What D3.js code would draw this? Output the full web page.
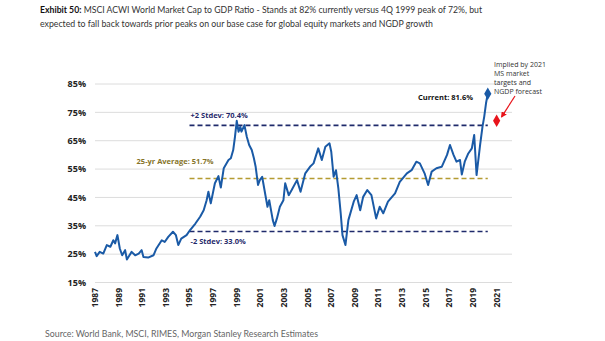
<!DOCTYPE html>
<html>
<head>
<meta charset="utf-8">
<script src="https://cdn.jsdelivr.net/npm/d3@7"></script>
<style>
  body { margin: 0; background: #fff; }
  svg { font-family: "Open Sans", "Noto Sans", sans-serif; }
  .lato { font-family: Lato, "Open Sans", sans-serif; }
</style>
</head>
<body>
<svg id="chart"></svg>
<script>
// decimal year / ratio (%)
const years = [
  1987.0, 1987.14, 1987.4, 1987.7, 1988.0, 1988.3, 1988.55, 1988.7, 1988.9, 1989.1,
  1989.3, 1989.55, 1989.7, 1990.1, 1990.4, 1990.7, 1990.95, 1991.1, 1991.5, 1991.95,
  1992.2, 1992.65, 1992.9, 1993.2, 1993.6, 1993.85, 1994.05, 1994.3, 1994.75, 1995.05,
  1995.5, 1995.9, 1996.2, 1996.45, 1996.6, 1996.8, 1997.15, 1997.45, 1997.65, 1997.9,
  1998.3, 1998.5, 1998.7, 1998.85, 1999.0, 1999.15, 1999.3, 1999.4, 1999.65, 1999.85,
  2000.05, 2000.27, 2000.45, 2000.6, 2000.8, 2000.95, 2001.15, 2001.4, 2001.6, 2001.75,
  2001.9, 2002.05, 2002.2, 2002.4, 2002.65, 2002.95, 2003.1, 2003.4, 2003.65, 2004.1,
  2004.4, 2004.8, 2005.2, 2005.5, 2005.9, 2006.2, 2006.5, 2006.85, 2007.0, 2007.2,
  2007.4, 2007.6, 2007.8, 2007.95, 2008.2, 2008.45, 2008.9, 2009.15, 2009.45, 2009.7,
  2010.05, 2010.4, 2010.8, 2011.1, 2011.4, 2011.8, 2012.4, 2012.8, 2013.4, 2013.8,
  2014.2, 2014.5, 2014.9, 2015.2, 2015.5, 2015.9, 2016.35, 2016.8, 2017.05, 2017.35,
  2017.6, 2017.9, 2018.05, 2018.3, 2018.6, 2018.9, 2019.1, 2019.3, 2019.6, 2019.8,
  2019.95, 2020.1, 2020.25
];
const ratio = [
  25.8, 24.3, 25.8, 25.2, 28.2, 27.6, 29.9, 28.8, 31.7, 27.0,
  24.6, 26.4, 23.1, 25.8, 24.6, 25.2, 26.4, 24.0, 23.8, 24.6,
  27.0, 29.9, 29.3, 31.1, 32.9, 31.7, 28.2, 30.5, 31.7, 33.5,
  35.8, 38.2, 40.5, 44.0, 47.0, 42.9, 50.0, 52.5, 48.5, 55.3,
  58.2, 58.8, 61.7, 66.4, 72.0, 68.2, 69.9, 68.2, 70.5, 66.4,
  63.5, 61.7, 58.8, 55.8, 49.4, 51.1, 52.3, 46.4, 41.7, 44.0,
  40.5, 37.0, 34.9, 37.6, 41.7, 44.0, 50.0, 45.8, 47.6, 51.1,
  47.0, 53.5, 55.8, 57.0, 62.3, 58.2, 62.9, 64.1, 61.1, 52.3,
  54.6, 48.2, 39.4, 31.7, 28.2, 37.0, 43.5, 45.8, 40.5, 45.2,
  47.6, 45.8, 37.6, 41.7, 39.4, 43.5, 46.4, 50.5, 53.5, 54.6,
  57.6, 57.0, 53.5, 49.4, 54.1, 55.3, 55.8, 60.0, 63.5, 60.0,
  57.6, 58.2, 53.1, 57.6, 60.5, 62.3, 67.0, 52.9, 63.5, 69.9,
  73.5, 78.2, 81.6
];

const yTicks = [15, 25, 35, 45, 55, 65, 75, 85];
const xTicks = [1987, 1989, 1991, 1993, 1995, 1997, 1999, 2001, 2003, 2005, 2007, 2009, 2011, 2013, 2015, 2017, 2019, 2021];

const refLines = [
  { label: "+2 Stdev: 70.4%", value: 70.4, color: "#1f2a6b", text: "#1f2a6b" },
  { label: "25-yr Average: 51.7%", value: 51.7, color: "#b49b32", text: "#86742a" },
  { label: "-2 Stdev: 33.0%", value: 33.0, color: "#1f2a6b", text: "#1f2a6b" }
];
const refStart = 1995, refEnd = 2020.25;

const forecastYear = 2021, forecastValue = 72;
const noteLines = ["Implied by 2021", "MS market", "targets and", "NGDP forecast"];

const width = 605, height = 341;
const svg = d3.select("#chart").attr("width", width).attr("height", height);

const x = d3.scaleLinear().domain([1987, 2022.3]).range([95, 512]);
const y = d3.scaleLinear().domain([15, 85]).range([282.5, 84]);

// title (squeezed to the reference's line widths)
const title = svg.append("text").attr("class", "lato").attr("x", 40).attr("y", 13)
  .attr("font-size", 9.5).attr("fill", "#333")
  .attr("textLength", 442).attr("lengthAdjust", "spacingAndGlyphs");
title.append("tspan").attr("font-weight", "bold").attr("fill", "#111").text("Exhibit 50:");
title.append("tspan").text(" MSCI ACWI World Market Cap to GDP Ratio - Stands at 82% currently versus 4Q 1999 peak of 72%, but");
svg.append("text").attr("class", "lato").attr("x", 40).attr("y", 27).attr("font-size", 9.5).attr("fill", "#333")
  .attr("textLength", 393).attr("lengthAdjust", "spacingAndGlyphs")
  .text("expected to fall back towards prior peaks on our base case for global equity markets and NGDP growth");

// gridlines + y labels
svg.append("g").selectAll("line").data(yTicks).join("line")
  .attr("x1", x.range()[0]).attr("x2", x.range()[1])
  .attr("y1", d => y(d)).attr("y2", d => y(d))
  .attr("stroke", "#dcdcdc").attr("stroke-width", 1);

svg.append("g").selectAll("text").data(yTicks).join("text")
  .attr("x", 86).attr("y", d => y(d)).attr("dy", "0.35em")
  .attr("text-anchor", "end").attr("font-size", 9).attr("font-weight", "bold").attr("fill", "#222")
  .text(d => d + "%");

// x labels, rotated
svg.append("g").selectAll("text").data(xTicks).join("text")
  .attr("transform", d => `translate(${x(d)}, 288) rotate(-90)`)
  .attr("dy", "0.35em").attr("text-anchor", "end")
  .attr("font-size", 8.5).attr("font-weight", "bold").attr("fill", "#222")
  .text(d => d);

// reference lines
const refs = svg.append("g");
refs.selectAll("line").data(refLines).join("line")
  .attr("x1", x(refStart)).attr("x2", x(refEnd))
  .attr("y1", d => y(d.value)).attr("y2", d => y(d.value))
  .attr("stroke", d => d.color).attr("stroke-width", 1.6).attr("stroke-dasharray", "5,3");

refs.selectAll("text").data(refLines).join("text")
  .attr("x", (d, i) => i === 1 ? x(refStart) + 24 : x(refStart) + 1)
  .attr("y", (d, i) => i === 0 ? y(d.value) - 7 : i === 1 ? y(d.value) - 14 : y(d.value) + 13)
  .attr("text-anchor", (d, i) => i === 1 ? "end" : "start")
  .attr("font-size", 7.5).attr("font-weight", "bold").attr("fill", d => d.text)
  .text(d => d.label);

// main series
const series = years.map((yr, i) => ({ year: yr, value: ratio[i] }));
svg.append("path").datum(series)
  .attr("fill", "none").attr("stroke", "#1a5aa6").attr("stroke-width", 2)
  .attr("stroke-linejoin", "round")
  .attr("d", d3.line().x(d => x(d.year)).y(d => y(d.value)));

// current marker
const last = series[series.length - 1];
svg.append("path")
  .attr("d", d3.symbol().type(d3.symbolDiamond).size(45))
  .attr("transform", `translate(${x(last.year)}, ${y(last.value)})`)
  .attr("fill", "#1a5aa6");
svg.append("text").attr("x", 418).attr("y", 100)
  .attr("font-size", 7.5).attr("font-weight", "bold").attr("fill", "#111")
  .text("Current: " + last.value.toFixed(1) + "%");

// forecast marker
svg.append("path")
  .attr("d", d3.symbol().type(d3.symbolDiamond).size(45))
  .attr("transform", `translate(${x(forecastYear)}, ${y(forecastValue)})`)
  .attr("fill", "#e8141b");

// arrow
svg.append("defs").append("marker")
  .attr("id", "arrow").attr("viewBox", "0 0 10 10").attr("refX", 8).attr("refY", 5)
  .attr("markerWidth", 5).attr("markerHeight", 5).attr("orient", "auto")
  .append("path").attr("d", "M0,0 L10,5 L0,10 z").attr("fill", "#e8141b");
svg.append("line")
  .attr("x1", 515).attr("y1", 96).attr("x2", x(forecastYear) + 5).attr("y2", y(forecastValue) - 4)
  .attr("stroke", "#e8141b").attr("stroke-width", 1.2).attr("marker-end", "url(#arrow)");

svg.append("g").selectAll("text").data(noteLines).join("text")
  .attr("x", 494).attr("y", (d, i) => 66.5 + i * 9)
  .attr("font-size", 7).attr("fill", "#333")
  .text(d => d);

// source
svg.append("text").attr("class", "lato").attr("x", 45).attr("y", 337)
  .attr("font-size", 9).attr("fill", "#666")
  .attr("textLength", 273).attr("lengthAdjust", "spacingAndGlyphs")
  .text("Source: World Bank, MSCI, RIMES, Morgan Stanley Research Estimates");
</script>
</body>
</html>
